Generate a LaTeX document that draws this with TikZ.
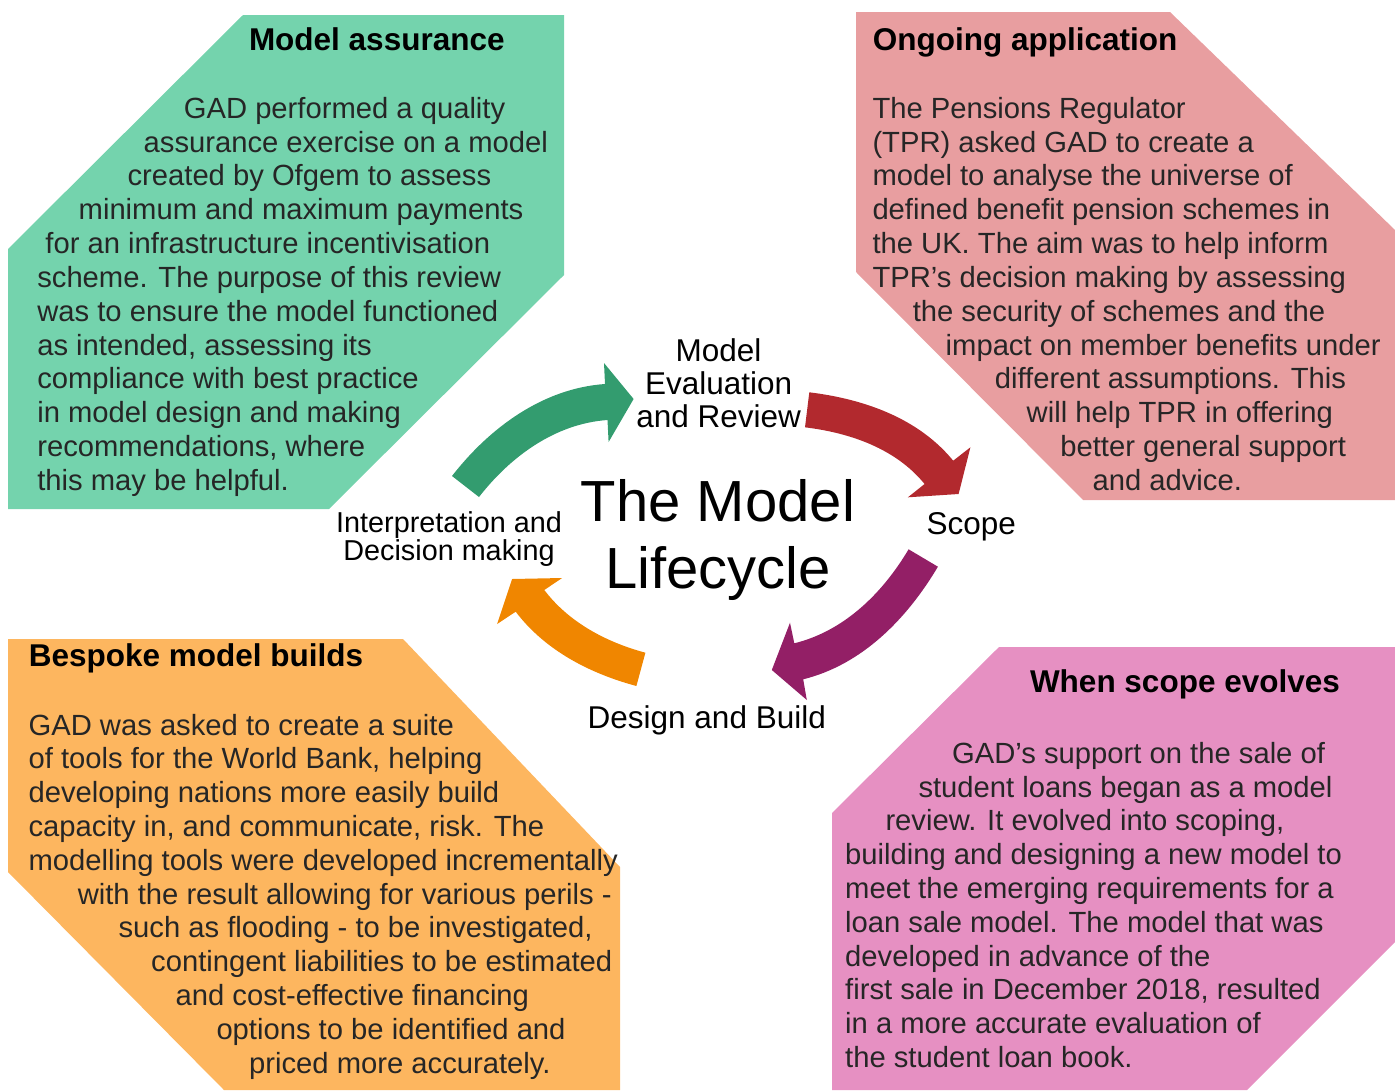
\documentclass[tikz,border=0pt]{standalone}
\usepackage{fontspec}
\setmainfont{Liberation Sans}
\definecolor{gpanel}{HTML}{74D3AD}
\definecolor{rpanel}{HTML}{E89EA0}
\definecolor{opanel}{HTML}{FDB65F}
\definecolor{ppanel}{HTML}{E690C2}
\definecolor{garr}{HTML}{339C6F}
\definecolor{rarr}{HTML}{B2292E}
\definecolor{parr}{HTML}{931F66}
\definecolor{oarr}{HTML}{F08600}
\definecolor{bodytext}{HTML}{262626}
\begin{document}
\begin{tikzpicture}[x=1pt,y=-1pt,
  bodyblock/.style={anchor=base west,inner sep=0pt,text=bodytext,font=\fontsize{29.2}{33.82}\selectfont},
  paneltitle/.style={anchor=base west,inner sep=0pt,text=black,font=\bfseries\fontsize{31.5}{36}\selectfont},
  cyclabel/.style={anchor=base,inner sep=0pt,text=black,font=\fontsize{31.5}{33}\selectfont},
  smalllabel/.style={anchor=base,inner sep=0pt,text=black,font=\fontsize{28.8}{28.4}\selectfont},
  bigtitle/.style={anchor=base,inner sep=0pt,text=black,font=\fontsize{58}{66.6}\selectfont}]
\useasboundingbox (0,0) rectangle (1395,1090);
% panels
\fill[gpanel] (243,15) -- (564,15) -- (564,275) -- (329,509) -- (8,509) -- (8,249) -- cycle;
\fill[rpanel] (856,12) -- (1170,12) -- (1395,230) -- (1395,500) -- (1083,500) -- (856,272) -- cycle;
\fill[opanel] (8,639) -- (403,639) -- (620,867) -- (620,1090) -- (224,1090) -- (8,872) -- cycle;
\fill[ppanel] (999,647) -- (1395,647) -- (1395,942) -- (1247,1090) -- (832,1090) -- (832,813) -- cycle;
% arrows
\fill[garr] (452,476) .. controls (490,427.2) and (543.3,388.3) .. (605,384) -- (604,363) -- (633.6,399) -- (608.6,442) -- (607.5,420) .. controls (555.7,423.6) and (510.9,456) .. (479,497) -- cycle;
\fill[rarr] (809.3,392.3) .. controls (863.9,399) and (918.4,418.1) .. (953.2,460.7) -- (970.4,447.3) -- (958.6,494) -- (907.9,497.3) -- (924.6,484) .. controls (895.7,448.6) and (850.4,432.9) .. (805,427.3) -- cycle;
\fill[parr] (937.9,566.7) .. controls (906.9,618.9) and (862.1,664.7) .. (803.2,679.3) -- (806.8,700) -- (771.8,670) -- (790,622.7) -- (794.3,643.3) .. controls (844.1,631) and (882.4,593.4) .. (908.6,549.3) -- cycle;
\fill[oarr] (636.4,686) .. controls (589.6,673.4) and (545.0,650.3) .. (515.7,611.7) -- (497.1,624) -- (512.1,579) -- (562.1,578) -- (544.3,590) .. controls (568.9,622.4) and (606.1,642.1) .. (645.4,652.7) -- cycle;
% titles
\node[paneltitle] (tassure) at (248.8,50) {Model assurance};
\node[paneltitle] (tongoing) at (872.6,50) {Ongoing application};
\node[paneltitle] (tbespoke) at (28.6,666.5) {Bespoke model builds};
\node[paneltitle] (tscope) at (1029.8,692.5) {When scope evolves};
% bodies
\node[bodyblock] (bassure) at (37.1,118.3) {\parbox[t]{600pt}{%
\hspace*{146.6pt}GAD performed a quality\\
\hspace*{106.4pt}assurance exercise on a model\\
\hspace*{90.3pt}created by Ofgem to assess\\
\hspace*{41.4pt}minimum and maximum payments\\
\hspace*{8.1pt}for an infrastructure incentivisation\\
scheme. The purpose of this review\\
was to ensure the model functioned\\
as intended, assessing its\\
compliance with best practice\\
in model design and making\\
recommendations, where\\
this may be helpful.}};
\node[bodyblock] (bongoing) at (872.3,118.3) {\parbox[t]{600pt}{%
The Pensions Regulator\\
(TPR) asked GAD to create a\\
model to analyse the universe of\\
defined benefit pension schemes in\\
the UK. The aim was to help inform\\
TPR’s decision making by assessing\\
\hspace*{40.3pt}the security of schemes and the\\
\hspace*{73.2pt}impact on member benefits under\\
\hspace*{122.4pt}different assumptions. This\\
\hspace*{154.2pt}will help TPR in offering\\
\hspace*{187.9pt}better general support\\
\hspace*{220.1pt}and advice.}};
\node[bodyblock] (bbespoke) at (28.4,735) {\parbox[t]{700pt}{%
GAD was asked to create a suite\\
of tools for the World Bank, helping\\
developing nations more easily build\\
capacity in, and communicate, risk. The\\
modelling tools were developed incrementally\\
\hspace*{49.2pt}with the result allowing for various perils -\\
\hspace*{90pt}such as flooding - to be investigated,\\
\hspace*{122.6pt}contingent liabilities to be estimated\\
\hspace*{147.1pt}and cost-effective financing\\
\hspace*{187.9pt}options to be identified and\\
\hspace*{220.6pt}priced more accurately.}};
\node[bodyblock] (bscope) at (845,763.2) {\parbox[t]{600pt}{%
\hspace*{107pt}GAD’s support on the sale of\\
\hspace*{73.3pt}student loans began as a model\\
\hspace*{40.3pt}review. It evolved into scoping,\\
building and designing a new model to\\
meet the emerging requirements for a\\
loan sale model. The model that was\\
developed in advance of the\\
first sale in December 2018, resulted\\
in a more accurate evaluation of\\
the student loan book.}};
% cycle labels
\node[cyclabel] (leval) at (718.6,361.7) {\parbox[t]{300pt}{\centering Model\\Evaluation\\and Review}};
\node[cyclabel,anchor=base west] (lscope) at (926.4,534.3) {Scope};
\node[cyclabel] (ldesign) at (706.8,728.8) {Design and Build};
\node[smalllabel] (linterp) at (449,532.2) {\parbox[t]{300pt}{\centering Interpretation and\\Decision making}};
\node[bigtitle] (lifecycle) at (718,521.7) {\parbox[t]{500pt}{\centering The Model\\Lifecycle}};
\end{tikzpicture}
\end{document}
